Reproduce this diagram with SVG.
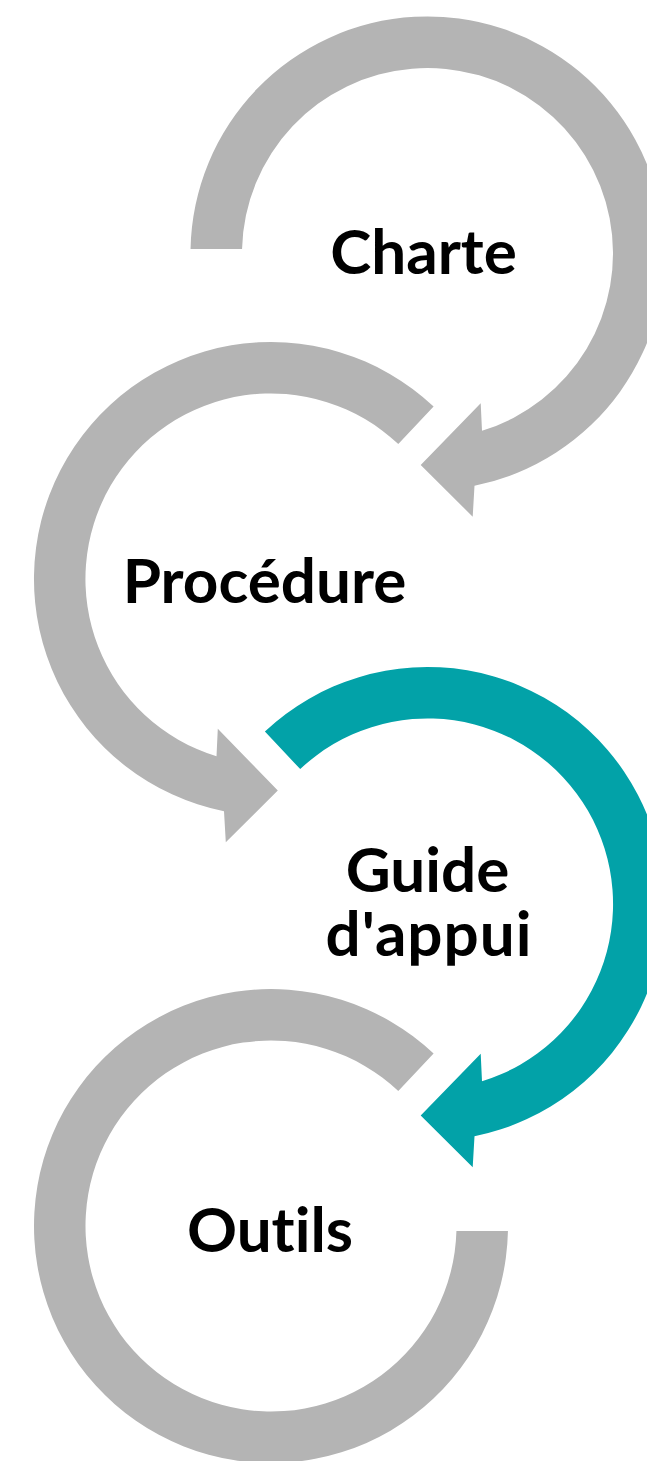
<svg xmlns="http://www.w3.org/2000/svg" width="647" height="1461" viewBox="0 0 647 1461">
<style>
.gray{fill:#B4B4B4}
.teal{fill:#02A2A8}
.lbl{font-family:Lato,"Liberation Sans",sans-serif;font-weight:bold;font-size:62px;fill:#000;text-anchor:middle;font-variant-ligatures:none;font-feature-settings:"liga" 0,"clig" 0}
</style>
<rect width="647" height="1461" fill="#fff"/>
<g id="connectors"></g>
<g id="node-charte" transform="translate(427.5,253.5)">
<path class="gray" d="M -236.96 -4.5 A 237 237 0 1 1 47.0 232.3 L 45.2 263.2 L -6.8 211.5 L 53.2 149.8 L 54.5 177.3 A 185.5 185.5 0 1 0 -185.45 -4.5 Z"/>
<text class="lbl" x="-4" y="20.5">Charte</text>
</g>
<g id="node-procedure" transform="translate(271,579)">
<path class="gray" d="M 162.6 -172.4 A 237 237 0 1 0 -47.0 232.3 L -45.2 263.2 L 6.8 211.5 L -53.2 149.8 L -54.5 177.3 A 185.5 185.5 0 1 1 127.3 -134.9 Z"/>
<text class="lbl" x="-6.5" y="23.7">Procédure</text>
</g>
<g id="node-guide" transform="translate(427.5,904)">
<path class="teal" d="M -162.6 -172.4 A 237 237 0 1 1 47.0 232.3 L 45.2 263.2 L -6.8 211.5 L 53.2 149.8 L 54.5 177.3 A 185.5 185.5 0 1 0 -127.3 -134.9 Z"/>
<text class="lbl" x="0" y="-12.3">Guide</text>
<text class="lbl" x="1.5" y="52" letter-spacing="1">d'appui</text>
</g>
<g id="node-outils" transform="translate(271,1226)">
<path class="gray" d="M 236.95 5 A 237 237 0 1 1 162.6 -172.4 L 127.3 -134.9 A 185.5 185.5 0 1 0 185.43 5 Z"/>
<text class="lbl" x="-1" y="25.7">Outils</text>
</g>
</svg>
